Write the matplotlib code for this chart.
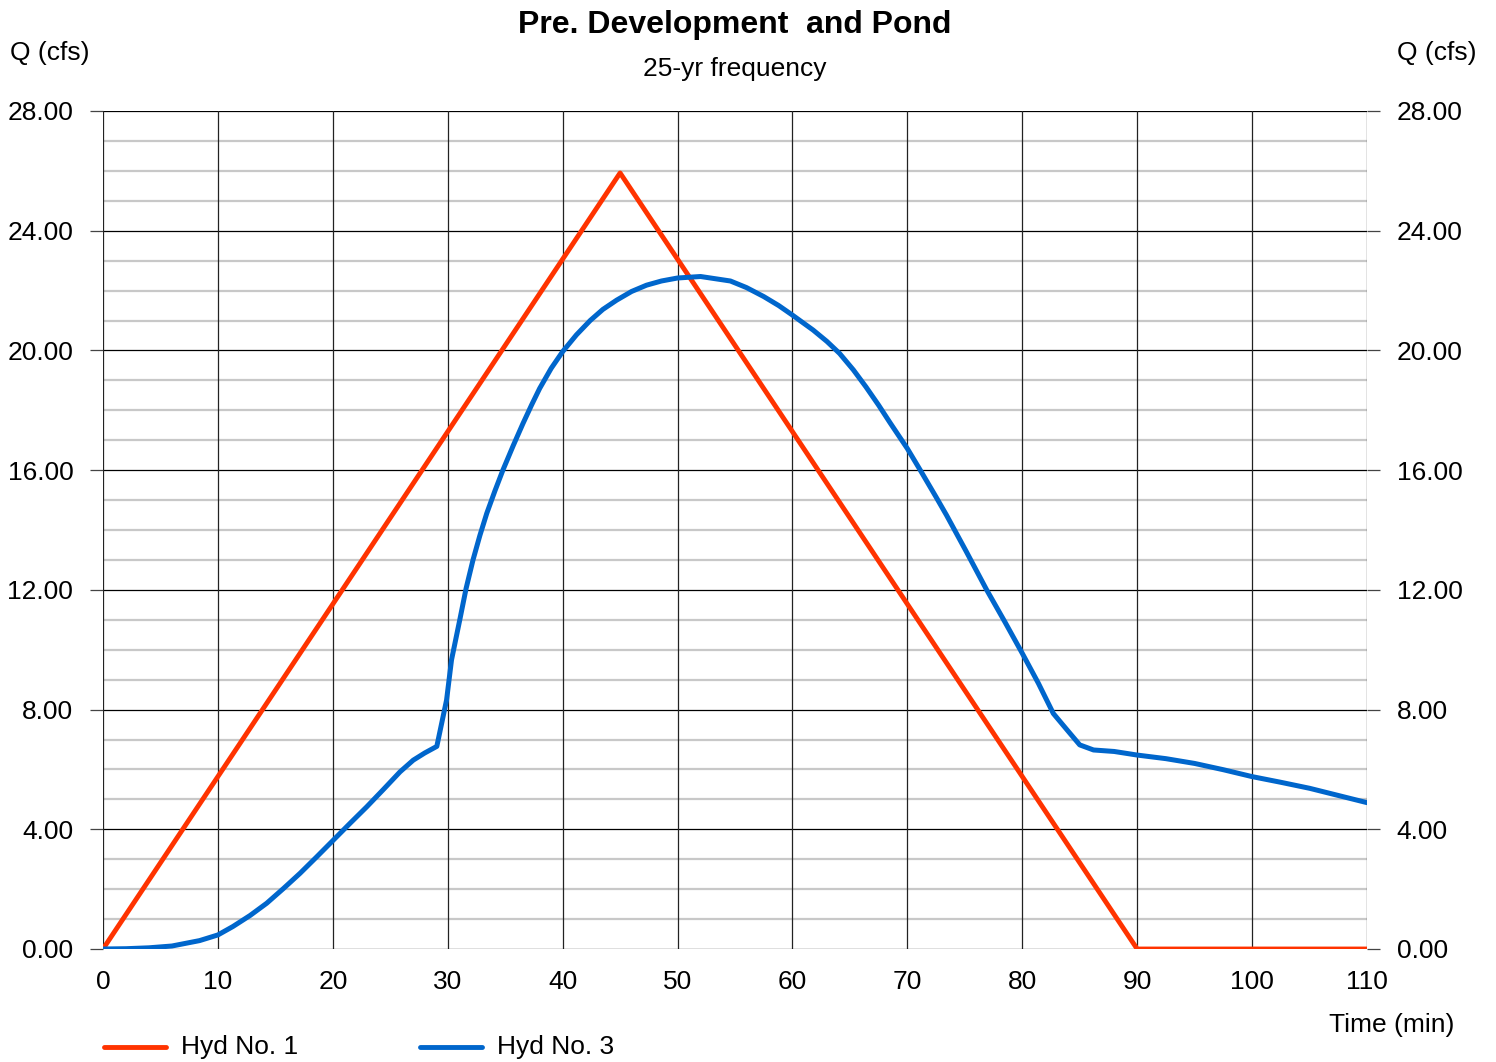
import matplotlib
matplotlib.use("Agg")
import matplotlib.pyplot as plt
from matplotlib.lines import Line2D
import numpy as np

plt.rcParams['font.family'] = ['Liberation Sans', 'DejaVu Sans']

# Hydrograph 1: pre-development (triangular)
hyd1_t = [0, 45, 90, 110]
hyd1_q = [0.0, 25.93, 0.0, 0.0]

# Hydrograph 3: routed through pond
hyd3_t = [0, 2, 4, 6, 8.4, 10, 11.3, 12.8, 14.25, 15.7, 17.15, 18.6, 20.05, 21.5,
          22.95, 24.4, 25.85, 27.0, 28.0, 29.05,
          29.9, 30.33, 31.05, 31.6, 32.2, 32.8, 33.4, 34.1, 34.8, 35.7, 36.55, 37.3,
          38.0, 39.0, 40.0, 41.2, 42.4, 43.5, 44.7, 46.0, 47.3, 48.6, 50.0, 52.0,
          54.6, 56.0, 57.5, 58.8, 60.0, 61.8, 63.0, 64.1, 65.3, 66.4, 67.5, 68.5,
          70.0, 71.2, 72.5, 73.4, 75.1, 76.9, 78.5, 80.0, 81.4, 82.7, 83.9, 85.0,
          86.2, 88.0, 90, 92.5, 95, 97.5, 100, 102.5, 105, 107.5, 110]
hyd3_q = [0.0, 0.01, 0.04, 0.1, 0.28, 0.47, 0.75, 1.12, 1.53, 2.02, 2.53, 3.08, 3.64, 4.2,
          4.75, 5.33, 5.92, 6.31, 6.55, 6.77,
          8.32, 9.66, 11.0, 12.05, 13.0, 13.82, 14.56, 15.3, 16.0, 16.82, 17.56, 18.18,
          18.73, 19.4, 19.96, 20.52, 21.0, 21.37, 21.68, 21.97, 22.18, 22.32, 22.42, 22.47,
          22.32, 22.1, 21.8, 21.5, 21.18, 20.68, 20.3, 19.9, 19.35, 18.78, 18.17, 17.58,
          16.72, 15.95, 15.1, 14.5, 13.3, 12.0, 10.92, 9.88, 8.88, 7.87, 7.32, 6.82,
          6.65, 6.6, 6.48, 6.36, 6.2, 5.99, 5.76, 5.57, 5.37, 5.13, 4.89]

y_ticks = [0, 4, 8, 12, 16, 20, 24, 28]
x_ticks = list(range(0, 111, 10))

fig = plt.figure(figsize=(14.96, 10.62), dpi=100)
ax = fig.add_axes([103/1496, 1 - 949/1062, (1367 - 103)/1496, (949 - 111)/1062])

ax.set_xlim(0, 110)
ax.set_ylim(0, 28)

# grid: light minor lines every 1 cfs, black major lines
for yv in np.arange(1, 28, 1):
    if yv % 4:
        ax.axhline(yv, color='#c8c8c8', lw=1.6, zorder=1)
for yv in y_ticks:
    ax.axhline(yv, color='black', lw=0.9, zorder=2)
for xv in x_ticks:
    ax.axvline(xv, color='#222222', lw=0.9, zorder=2)

for s in ax.spines.values():
    s.set_visible(False)

red = '#ff3300'
blue = '#0066cc'
ax.plot(hyd1_t, hyd1_q, color=red, lw=3.5, zorder=4, solid_capstyle='round')
ax.plot(hyd3_t, hyd3_q, color=blue, lw=3.6, zorder=5, solid_capstyle='round',
        solid_joinstyle='round')

ax.set_yticks(y_ticks)
ax.set_yticklabels([f"{v:.2f}" for v in y_ticks])
ax.set_xticks(x_ticks)
ax.set_xticklabels([str(v) for v in x_ticks])
ax.tick_params(axis='y', which='both', left=True, right=True, labelleft=True,
               labelright=True, length=9.4, width=0.9, color='#444444',
               pad=12, labelsize=19)
ax.tick_params(axis='x', length=0, pad=15, labelsize=19)

fig.text(735/1496, 1 - 25/1062, "Pre. Development  and Pond", ha='center', va='center',
         fontsize=23, fontweight='bold')
fig.text(735/1496, 1 - 69/1062, "25-yr frequency", ha='center', va='center', fontsize=19)
fig.text(50/1496, 1 - 53/1062, "Q (cfs)", ha='center', va='center', fontsize=19)
fig.text(1437/1496, 1 - 53/1062, "Q (cfs)", ha='center', va='center', fontsize=19)
fig.text(1392/1496, 1 - 1025/1062, "Time (min)", ha='center', va='center', fontsize=19)

# legend below the plot
ly = 1 - 1047/1062
fig.add_artist(Line2D([104/1496, 166/1496], [ly, ly], color=red, lw=3.5,
                      solid_capstyle='round'))
fig.text(181/1496, ly, "Hyd No. 1", ha='left', va='center', fontsize=19)
fig.add_artist(Line2D([420/1496, 482/1496], [ly, ly], color=blue, lw=3.5,
                      solid_capstyle='round'))
fig.text(497/1496, ly, "Hyd No. 3", ha='left', va='center', fontsize=19)

fig.savefig("out.png", dpi=100)
